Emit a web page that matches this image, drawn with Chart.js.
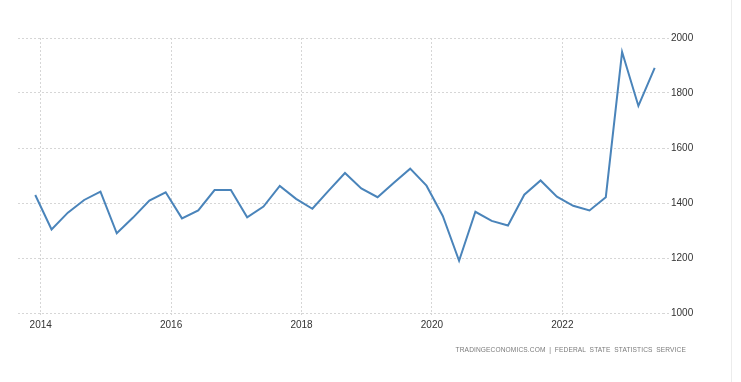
<!DOCTYPE html>
<html>
<head>
<meta charset="utf-8">
<script src="https://cdn.jsdelivr.net/npm/chart.js@4"></script>
<style>
  html, body { margin: 0; padding: 0; background: #fff; }
  #wrap { position: relative; width: 741px; height: 382px; overflow: hidden; }
  #edge { position: absolute; left: 731px; top: 0; width: 1px; height: 382px; background: #ececec; }
  #src { position: absolute; top: 346px; right: 55px; font-family: "Liberation Sans", Arial, sans-serif;
         font-size: 6.6px; color: #7a7a7a; letter-spacing: 0.12px; word-spacing: 1.8px; white-space: pre; }
</style>
</head>
<body>
<div id="wrap">
  <canvas id="c" width="741" height="382"></canvas>
  <div id="edge"></div>
  <div id="src">TRADINGECONOMICS.COM | FEDERAL STATE STATISTICS SERVICE</div>
</div>
<script>
// Quarterly observations (year, month)
const periods = [
  "2013-12","2014-03","2014-06","2014-09","2014-12","2015-03","2015-06","2015-09","2015-12",
  "2016-03","2016-06","2016-09","2016-12","2017-03","2017-06","2017-09","2017-12",
  "2018-03","2018-06","2018-09","2018-12","2019-03","2019-06","2019-09","2019-12",
  "2020-03","2020-06","2020-09","2020-12","2021-03","2021-06","2021-09","2021-12",
  "2022-03","2022-06","2022-09","2022-12","2023-03","2023-06"
];
const values = [
  1429,1304,1365,1411,1441,1290,1347,1409,1439,
  1344,1373,1447,1447,1348,1387,1462,1415,
  1379,1445,1509,1453,1421,1474,1525,1463,
  1353,1190,1368,1335,1318,1430,1482,1423,
  1390,1373,1421,1949,1753,1891
];
const xTickYears = [2014, 2016, 2018, 2020, 2022];
const yTickValues = [1000, 1200, 1400, 1600, 1800, 2000];

const toYear = p => { const [y, m] = p.split("-").map(Number); return y + (m - 1) / 12; };
const points = periods.map((p, i) => ({ x: toYear(p), y: values[i] }));

const FONT = { family: "'Liberation Sans', Arial, sans-serif", size: 10 };
const GRID = { color: "#d6d6d6", lineWidth: 1 };

new Chart(document.getElementById("c"), {
  type: "line",
  data: {
    datasets: [{
      data: points,
      borderColor: "#4a84ba",
      borderWidth: 2,
      pointRadius: 0,
      tension: 0,
      fill: false
    }]
  },
  options: {
    responsive: false,
    animation: false,
    events: [],
    layout: { padding: { left: 18, top: 38, right: 0, bottom: 0 } },
    plugins: { legend: { display: false }, tooltip: { enabled: false } },
    scales: {
      x: {
        type: "linear",
        min: 2013.652,
        max: 2023.544,
        afterBuildTicks: s => { s.ticks = xTickYears.map(v => ({ value: v })); },
        afterFit: s => { s.height = 69; },
        ticks: { font: FONT, color: "#333", padding: 2, maxRotation: 0, autoSkip: false,
                 callback: v => String(v) },
        grid: { color: GRID.color, lineWidth: 1, tickLength: 4, tickBorderDash: [2, 2] },
        border: { display: false, dash: [2, 2] }
      },
      y: {
        position: "right",
        min: 1000,
        max: 2000,
        afterBuildTicks: s => { s.ticks = yTickValues.map(v => ({ value: v })); },
        afterFit: s => { s.width = 78; },
        ticks: { font: FONT, color: "#333", padding: 1, crossAlign: "near",
                 callback: v => String(v) },
        grid: { color: GRID.color, lineWidth: 1, tickLength: 7, tickBorderDash: [2, 2] },
        border: { display: false, dash: [2, 2] }
      }
    }
  }
});
</script>
</body>
</html>
